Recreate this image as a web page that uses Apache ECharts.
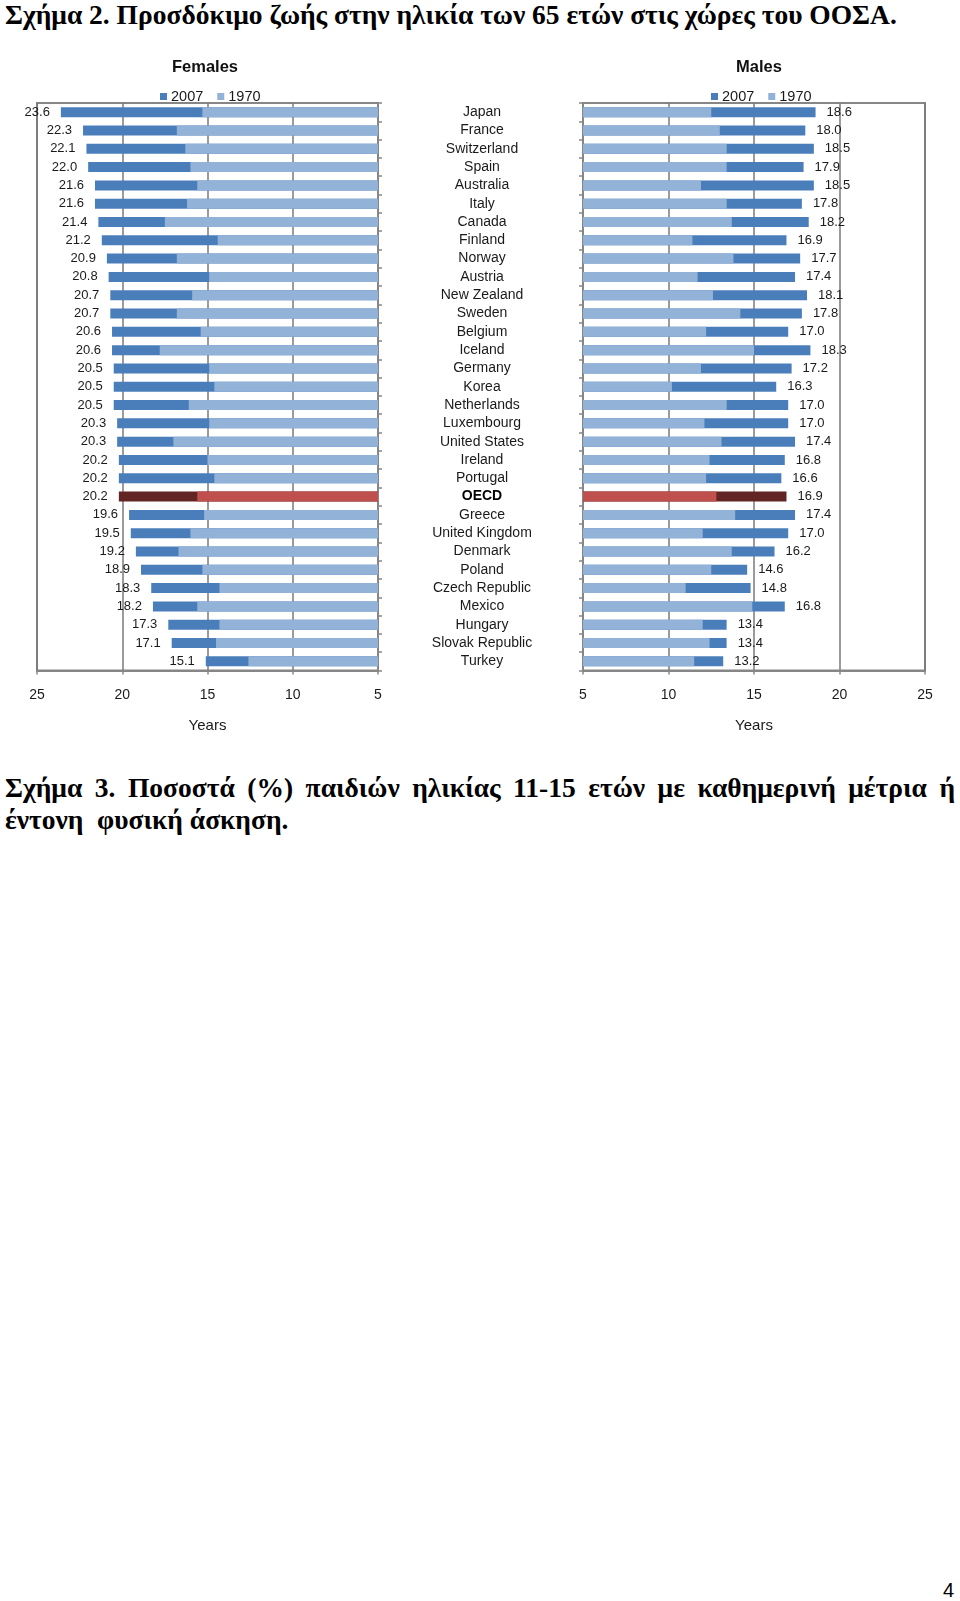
<!DOCTYPE html>
<html>
<head>
<meta charset="utf-8">
<script src="https://cdn.jsdelivr.net/npm/echarts@6/dist/echarts.min.js"></script>
<style>
  html, body { margin: 0; padding: 0; background: #fff; }
  body { width: 960px; height: 1601px; position: relative; overflow: hidden; }
  #chart { position: absolute; left: 0; top: 0; width: 960px; height: 760px; }
  .cap { position: absolute; font-family: "Liberation Serif", "DejaVu Serif", serif; font-weight: bold; font-size: 27.5px; color: #000; white-space: nowrap; }
  #cap1 { left: 5px; top: 0px; line-height: 30px; }
  #cap2a { left: 5px; width: 950px; top: 772px; line-height: 32px; text-align: justify; text-align-last: justify; }
  #cap2b { left: 5px; top: 804px; line-height: 32px; }
  #pnum { position: absolute; right: 6px; top: 1578px; font-family: "Liberation Sans", Arial, sans-serif; font-size: 20px; line-height: 24px; color: #000; }
</style>
</head>
<body>
<div id="cap1" class="cap">Σχήμα 2. Προσδόκιμο ζωής στην ηλικία των 65 ετών στις χώρες του ΟΟΣΑ.</div>
<div id="chart"></div>
<div id="cap2a" class="cap">Σχήμα 3. Ποσοστά (%) παιδιών ηλικίας 11-15 ετών με καθημερινή μέτρια ή</div>
<div id="cap2b" class="cap">έντονη&nbsp; φυσική άσκηση.</div>
<div id="pnum">4</div>
<script>
const countries = ['Japan','France','Switzerland','Spain','Australia','Italy','Canada','Finland','Norway','Austria','New Zealand','Sweden','Belgium','Iceland','Germany','Korea','Netherlands','Luxembourg','United States','Ireland','Portugal','OECD','Greece','United Kingdom','Denmark','Poland','Czech Republic','Mexico','Hungary','Slovak Republic','Turkey'];
const females2007 = [23.6,22.3,22.1,22.0,21.6,21.6,21.4,21.2,20.9,20.8,20.7,20.7,20.6,20.6,20.5,20.5,20.5,20.3,20.3,20.2,20.2,20.2,19.6,19.5,19.2,18.9,18.3,18.2,17.3,17.1,15.1];
const females1970 = [15.3,16.8,16.3,16.0,15.6,16.2,17.5,14.4,16.8,14.9,15.9,16.8,15.4,17.8,14.9,14.6,16.1,14.9,17.0,15.0,14.6,15.6,15.2,16.0,16.7,15.3,14.3,15.6,14.3,14.5,12.6];
const males2007 = [18.6,18.0,18.5,17.9,18.5,17.8,18.2,16.9,17.7,17.4,18.1,17.8,17.0,18.3,17.2,16.3,17.0,17.0,17.4,16.8,16.6,16.9,17.4,17.0,16.2,14.6,14.8,16.8,13.4,13.4,13.2];
const males1970 = [12.5,13.0,13.4,13.4,11.9,13.4,13.7,11.4,13.8,11.7,12.6,14.2,12.2,15.0,11.9,10.2,13.4,12.1,13.1,12.4,12.2,12.8,13.9,12.0,13.7,12.5,11.0,14.9,12.0,12.4,11.5];
const yearTicks = [5,10,15,20,25];
const panelTitles = ['Females','Males'];
const legendNames = ['2007','1970'];

const C07 = '#4a7ebb', C70 = '#93b2d8', CO07 = '#632523', CO70 = '#c0504d';
const GRAY = '#868686', TXT = '#1a1a1a';
const FONT = '"Liberation Sans", Arial, sans-serif';

function mk(vals, normal, oecd) {
  return vals.map((v, i) => countries[i] === 'OECD' ? { value: v, itemStyle: { color: oecd } } : { value: v, itemStyle: { color: normal } });
}

const chart = echarts.init(document.getElementById('chart'), null, { renderer: 'canvas' });

function xAx(idx, inverse) {
  return {
    gridIndex: idx, type: 'value', min: yearTicks[0], max: yearTicks[yearTicks.length - 1], interval: 5, inverse: inverse,
    axisLine: { show: true, lineStyle: { color: GRAY, width: 2 } },
    axisTick: { show: true, length: 4, lineStyle: { color: GRAY, width: 1.5 } },
    splitLine: { show: true, lineStyle: { color: '#7a7a7a', width: 1.5 } },
    axisLabel: { fontFamily: FONT, fontSize: 14, color: TXT, margin: 18 },
    name: 'Years', nameLocation: 'middle', nameGap: 48,
    nameTextStyle: { fontFamily: FONT, fontSize: 15, color: TXT }
  };
}

const option = {
  animation: false,
  backgroundColor: 'transparent',
  graphic: [
    { type: 'text', x: 205, y: 67, style: { text: panelTitles[0], font: 'bold 16.5px ' + FONT, fill: '#111', align: 'center', verticalAlign: 'middle', textAlign: 'center', textVerticalAlign: 'middle' } },
    { type: 'text', x: 759, y: 67, style: { text: panelTitles[1], font: 'bold 16.5px ' + FONT, fill: '#111', align: 'center', verticalAlign: 'middle', textAlign: 'center', textVerticalAlign: 'middle' } }
  ],
  legend: [
    { data: legendNames, left: 155, top: 84, itemWidth: 7, itemHeight: 7, itemGap: 14, icon: 'rect', selectedMode: false,
      textStyle: { fontFamily: FONT, fontSize: 14.5, color: TXT, padding: [0, 0, 0, -1] } },
    { data: legendNames, left: 706, top: 84, itemWidth: 7, itemHeight: 7, itemGap: 14, icon: 'rect', selectedMode: false,
      textStyle: { fontFamily: FONT, fontSize: 14.5, color: TXT, padding: [0, 0, 0, -1] } }
  ],
  grid: [
    { left: 37, top: 103, width: 341, height: 567.5, show: true, borderColor: GRAY, borderWidth: 2, backgroundColor: 'transparent' },
    { left: 583, top: 103, width: 342, height: 567.5, show: true, borderColor: GRAY, borderWidth: 2, backgroundColor: 'transparent' }
  ],
  xAxis: [xAx(0, true), xAx(1, false)],
  yAxis: [
    { gridIndex: 0, type: 'category', data: countries, inverse: true, position: 'right',
      axisLine: { show: true, lineStyle: { color: GRAY, width: 2 } },
      axisTick: { show: true, length: 4, lineStyle: { color: GRAY, width: 1.5 } },
      splitLine: { show: false },
      axisLabel: { show: true, align: 'center', margin: 104, fontFamily: FONT, fontSize: 14, color: TXT,
        formatter: v => v === 'OECD' ? '{b|' + v + '}' : v,
        rich: { b: { fontFamily: FONT, fontSize: 14, fontWeight: 'bold', color: '#000' } } } },
    { gridIndex: 1, type: 'category', data: countries, inverse: true, position: 'left',
      axisLine: { show: true, lineStyle: { color: GRAY, width: 2 } },
      axisTick: { show: true, length: 4, lineStyle: { color: GRAY, width: 1.5 } },
      splitLine: { show: false },
      axisLabel: { show: false } }
  ],
  series: [
    { name: '2007', type: 'bar', xAxisIndex: 0, yAxisIndex: 0, barWidth: 10, barGap: '-100%', data: mk(females2007, C07, CO07), itemStyle: { color: C07 },
      label: { show: true, position: 'left', distance: 11, fontFamily: FONT, fontSize: 13, color: TXT, formatter: p => p.value.toFixed(1) }, z: 2 },
    { name: '1970', type: 'bar', xAxisIndex: 0, yAxisIndex: 0, barWidth: 10, barGap: '-100%', data: mk(females1970, C70, CO70), itemStyle: { color: C70 }, z: 3 },
    { name: '2007', type: 'bar', xAxisIndex: 1, yAxisIndex: 1, barWidth: 10, barGap: '-100%', data: mk(males2007, C07, CO07), itemStyle: { color: C07 },
      label: { show: true, position: 'right', distance: 11, fontFamily: FONT, fontSize: 13, color: TXT, formatter: p => p.value.toFixed(1) }, z: 2 },
    { name: '1970', type: 'bar', xAxisIndex: 1, yAxisIndex: 1, barWidth: 10, barGap: '-100%', data: mk(males1970, C70, CO70), itemStyle: { color: C70 }, z: 3 }
  ]
};
chart.setOption(option);
</script>
</body>
</html>
